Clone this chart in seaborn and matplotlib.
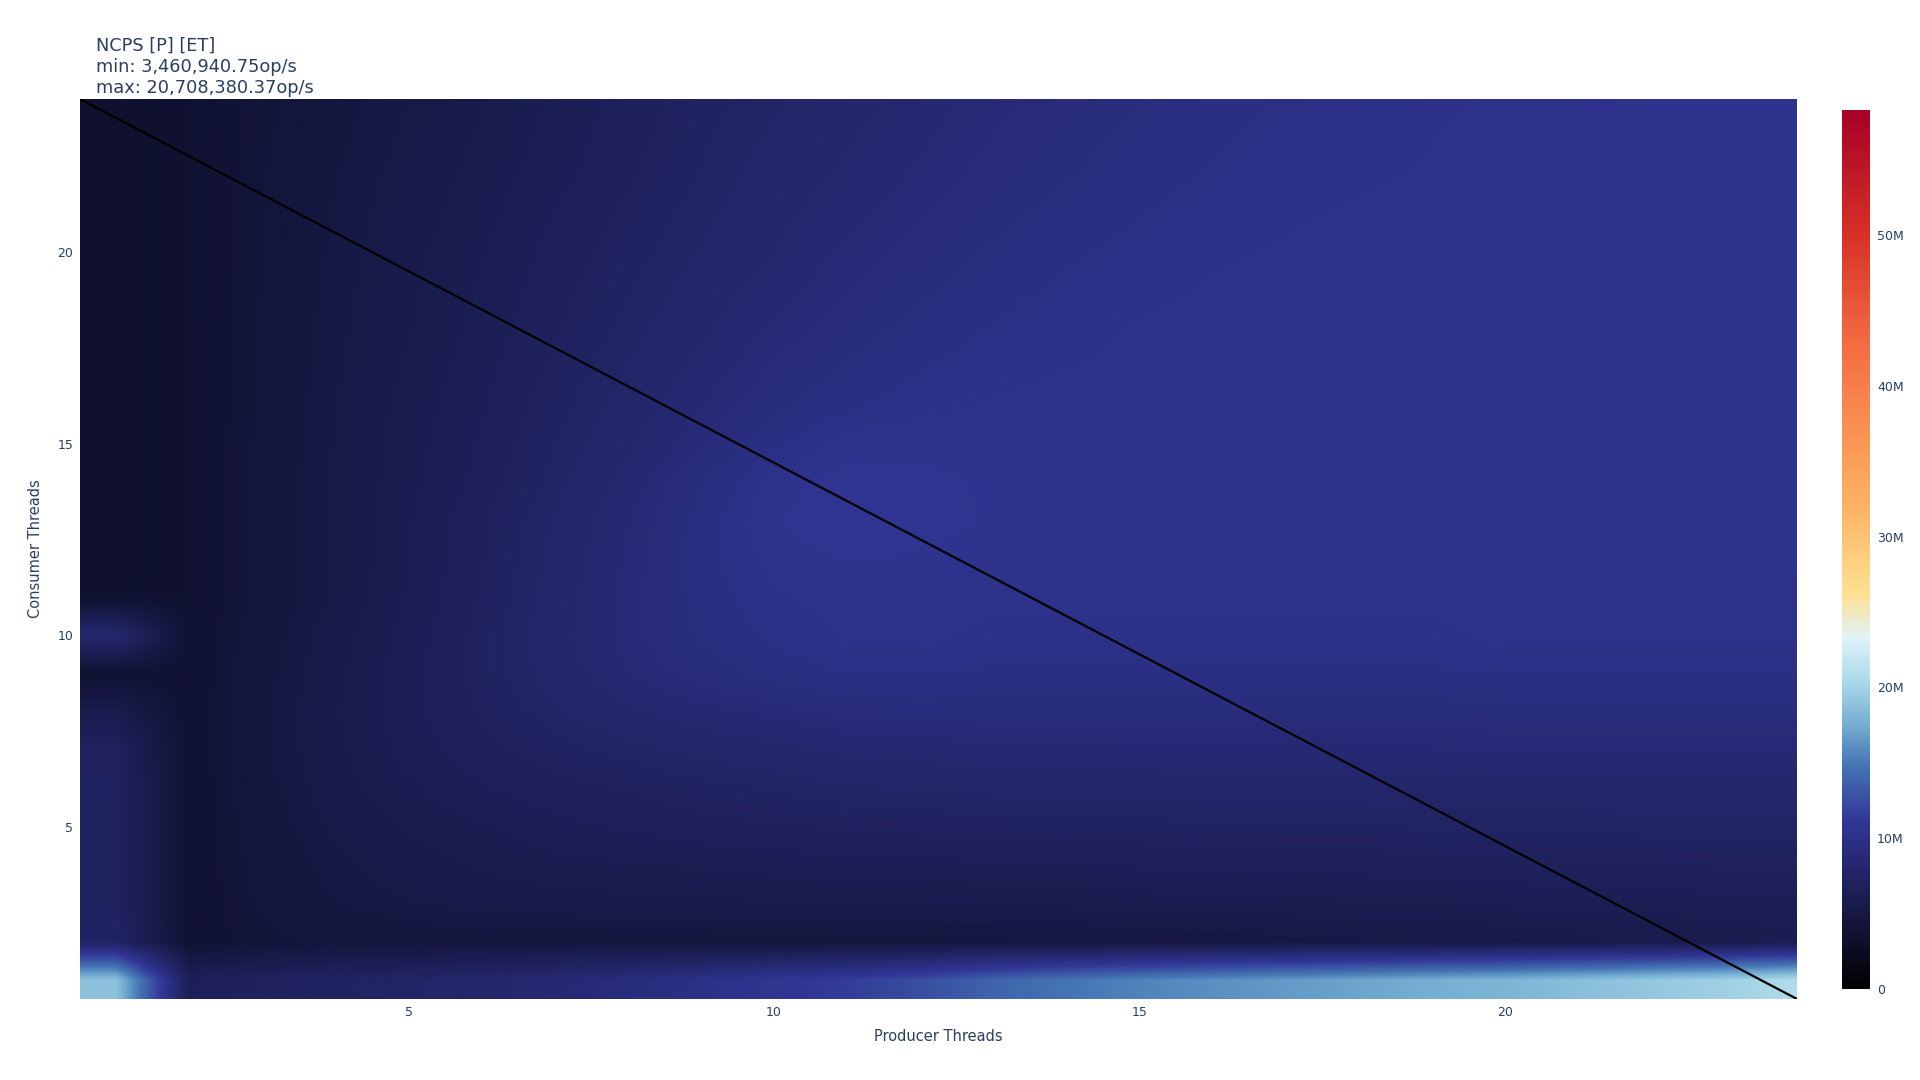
import numpy as np
import seaborn as sns
import matplotlib.pyplot as plt
from matplotlib.colors import LinearSegmentedColormap, Normalize
from matplotlib.ticker import FuncFormatter

# thread counts on each axis
producer_threads = list(range(1, 25))
consumer_threads = list(range(1, 25))

# throughput in millions of op/s, one row per consumer count (1 .. 24),
# one value per producer count (1 .. 24)
ncps_rows = [
    [18.8, 6.5, 7.0, 7.3, 7.6, 8.0, 8.5, 9.2, 10.0, 10.8, 11.5, 12.5, 13.8, 14.8, 15.5, 16.1, 16.6, 17.1, 17.6, 18.0, 18.6, 19.2, 19.8, 20.70838037],
    [7.4, 3.9, 4.2, 4.4, 4.5, 4.6, 4.6, 4.6, 4.6, 4.6, 4.6, 4.6, 4.7, 4.7, 4.8, 4.9, 5.0, 5.1, 5.2, 5.3, 5.5, 5.6, 5.8, 6.0],
    [7.2, 3.8, 4.4, 4.9, 5.2, 5.4, 5.5, 5.6, 5.6, 5.7, 5.7, 5.7, 5.8, 5.8, 5.9, 6.0, 6.0, 6.1, 6.1, 6.2, 6.3, 6.3, 6.4, 6.4],
    [7.2, 3.8, 4.5, 5.1, 5.5, 5.8, 6.0, 6.1, 6.2, 6.3, 6.4, 6.4, 6.5, 6.5, 6.6, 6.6, 6.7, 6.7, 6.8, 6.8, 6.9, 6.9, 7.0, 7.0],
    [7.2, 3.8, 4.6, 5.3, 5.8, 6.1, 6.4, 6.6, 6.8, 6.9, 7.0, 7.1, 7.1, 7.2, 7.2, 7.3, 7.3, 7.3, 7.4, 7.4, 7.4, 7.5, 7.5, 7.5],
    [7.2, 3.8, 4.7, 5.5, 6.1, 6.5, 6.8, 7.0, 7.2, 7.4, 7.6, 7.7, 7.8, 7.8, 7.8, 7.9, 7.9, 7.9, 7.9, 8.0, 8.0, 8.0, 8.0, 8.0],
    [7.0, 3.8, 4.8, 5.6, 6.3, 6.8, 7.2, 7.5, 7.8, 8.0, 8.3, 8.4, 8.5, 8.5, 8.6, 8.6, 8.6, 8.6, 8.6, 8.7, 8.7, 8.7, 8.7, 8.7],
    [5.8, 3.8, 4.8, 5.7, 6.4, 7.0, 7.6, 8.1, 8.5, 8.8, 9.1, 9.2, 9.2, 9.2, 9.2, 9.2, 9.2, 9.2, 9.2, 9.3, 9.3, 9.3, 9.3, 9.3],
    [3.8, 3.8, 4.7, 5.6, 6.4, 7.1, 7.9, 8.6, 9.2, 9.6, 9.9, 9.9, 9.8, 9.8, 9.8, 9.8, 9.8, 9.8, 9.8, 9.9, 9.9, 9.9, 9.9, 9.9],
    [8.3, 3.8, 4.6, 5.5, 6.3, 7.1, 8.0, 8.8, 9.5, 10.0, 10.3, 10.3, 10.2, 10.2, 10.2, 10.2, 10.2, 10.2, 10.2, 10.3, 10.3, 10.3, 10.3, 10.3],
    [3.6, 3.7, 4.5, 5.3, 6.2, 7.0, 7.9, 8.8, 9.6, 10.2, 10.4, 10.4, 10.3, 10.3, 10.3, 10.3, 10.3, 10.3, 10.3, 10.4, 10.4, 10.4, 10.4, 10.4],
    [3.5, 3.7, 4.5, 5.3, 6.1, 6.9, 7.8, 8.7, 9.7, 10.4, 10.7, 10.6, 10.4, 10.4, 10.3, 10.3, 10.3, 10.3, 10.4, 10.4, 10.4, 10.4, 10.5, 10.5],
    [3.5, 3.7, 4.5, 5.3, 6.1, 6.9, 7.7, 8.6, 9.6, 10.6, 11.1, 10.9, 10.6, 10.4, 10.3, 10.3, 10.3, 10.4, 10.4, 10.4, 10.5, 10.5, 10.5, 10.5],
    [3.5, 3.7, 4.5, 5.3, 6.0, 6.7, 7.5, 8.4, 9.4, 10.4, 10.9, 10.8, 10.6, 10.5, 10.4, 10.4, 10.4, 10.4, 10.5, 10.5, 10.5, 10.5, 10.6, 10.6],
    [3.5, 3.7, 4.45, 5.25, 5.95, 6.6, 7.35, 8.1, 8.9, 9.8, 10.4, 10.5, 10.5, 10.4, 10.4, 10.4, 10.4, 10.45, 10.5, 10.5, 10.55, 10.55, 10.6, 10.6],
    [3.5, 3.7, 4.4, 5.2, 5.9, 6.5, 7.2, 7.9, 8.6, 9.3, 9.8, 10.1, 10.3, 10.4, 10.4, 10.4, 10.4, 10.5, 10.5, 10.5, 10.6, 10.6, 10.6, 10.6],
    [3.5, 3.7, 4.4, 5.15, 5.8, 6.4, 7.05, 7.7, 8.35, 9.0, 9.5, 9.85, 10.1, 10.25, 10.35, 10.4, 10.4, 10.5, 10.5, 10.55, 10.6, 10.6, 10.6, 10.6],
    [3.5, 3.7, 4.4, 5.1, 5.7, 6.3, 6.9, 7.5, 8.1, 8.7, 9.2, 9.6, 9.9, 10.1, 10.3, 10.4, 10.4, 10.5, 10.5, 10.6, 10.6, 10.6, 10.6, 10.6],
    [3.5, 3.7, 4.35, 5.05, 5.65, 6.2, 6.8, 7.35, 7.9, 8.45, 8.95, 9.35, 9.7, 9.95, 10.15, 10.3, 10.35, 10.45, 10.5, 10.55, 10.6, 10.6, 10.6, 10.6],
    [3.5, 3.7, 4.3, 5.0, 5.6, 6.1, 6.7, 7.2, 7.7, 8.2, 8.7, 9.1, 9.5, 9.8, 10.0, 10.2, 10.3, 10.4, 10.5, 10.5, 10.6, 10.6, 10.6, 10.6],
    [3.5, 3.7, 4.3, 4.95, 5.5, 6.0, 6.55, 7.05, 7.55, 8.05, 8.5, 8.9, 9.3, 9.6, 9.85, 10.05, 10.2, 10.3, 10.4, 10.45, 10.55, 10.55, 10.6, 10.6],
    [3.5, 3.7, 4.3, 4.9, 5.4, 5.9, 6.4, 6.9, 7.4, 7.9, 8.3, 8.7, 9.1, 9.4, 9.7, 9.9, 10.1, 10.2, 10.3, 10.4, 10.5, 10.5, 10.6, 10.6],
    [3.5, 3.7, 4.25, 4.8, 5.3, 5.8, 6.3, 6.8, 7.3, 7.75, 8.15, 8.55, 8.95, 9.25, 9.55, 9.8, 10.0, 10.15, 10.25, 10.35, 10.45, 10.5, 10.55, 10.6],
    [3.46094075, 3.7, 4.2, 4.7, 5.2, 5.7, 6.2, 6.7, 7.2, 7.6, 8.0, 8.4, 8.8, 9.1, 9.4, 9.7, 9.9, 10.1, 10.2, 10.3, 10.4, 10.5, 10.5, 10.6],
]

# colour bar scale
cbar_max = 58.3e6
cbar_ticks = [0, 10e6, 20e6, 30e6, 40e6, 50e6]
axis_ticks = [5, 10, 15, 20]

# black into a reversed RdYlBu, stops
scale_stops = [0.0, 0.19, 0.255, 0.30, 0.35, 0.40, 0.45, 0.56, 0.73, 0.86, 1.0]
scale_colors = ['#000000', '#313695', '#4575b4', '#74add1', '#abd9e9', '#e0f3f8',
                '#fee090', '#fdae61', '#f46d43', '#d73027', '#a50026']

sns.set_style("white")
plt.rcParams['font.family'] = ['DejaVu Sans']
text_color = '#2a3f5f'

z = np.array(ncps_rows) * 1e6
cmap = LinearSegmentedColormap.from_list('ncps', list(zip(scale_stops, scale_colors)), N=4096)

fig = plt.figure(figsize=(19.2, 10.8), dpi=100)
ax = fig.add_axes([80 / 1920, 81 / 1080, 1717 / 1920, 900 / 1080])
cax = fig.add_axes([1842 / 1920, 91 / 1080, 28 / 1920, 879 / 1080])

x_lo = producer_threads[0] - 0.5
x_hi = producer_threads[-1] + 0.5
y_lo = consumer_threads[0] - 0.5
y_hi = consumer_threads[-1] + 0.5
im = ax.imshow(z, origin='lower', aspect='auto', interpolation='bilinear',
               interpolation_stage='data',
               cmap=cmap, norm=Normalize(0, cbar_max),
               extent=(x_lo, x_hi, y_lo, y_hi))

# diagonal from the top left corner to the bottom right corner of the grid
ax.plot([x_lo, producer_threads[-1]], [consumer_threads[-1], y_lo],
        color='black', linewidth=1.6)

ax.set_xlim(x_lo, producer_threads[-1])
ax.set_ylim(y_lo, consumer_threads[-1])
ax.set_xticks(axis_ticks)
ax.set_yticks(axis_ticks)
ax.tick_params(length=0, pad=5, labelsize=9, labelcolor=text_color)
for s in ax.spines.values():
    s.set_visible(False)
ax.set_xlabel('Producer Threads', fontsize=10.5, color=text_color, labelpad=7.5)
ax.set_ylabel('Consumer Threads', fontsize=10.5, color=text_color, labelpad=10)

cb = fig.colorbar(im, cax=cax, ticks=cbar_ticks)
cb.outline.set_visible(False)
cb.ax.yaxis.set_major_formatter(FuncFormatter(lambda v, p: '0' if v == 0 else f'{v / 1e6:.0f}M'))
cb.ax.tick_params(length=0, pad=5, labelsize=9, labelcolor=text_color)

title = (f"NCPS [P] [ET]\nmin: {z.min():,.2f}op/s\nmax: {z.max():,.2f}op/s")
fig.text(96 / 1920, 1 - 36.5 / 1080, title, ha='left', va='top',
         fontsize=12.8, color=text_color, linespacing=1.24)

fig.savefig('out.png', dpi=100, facecolor='white')
